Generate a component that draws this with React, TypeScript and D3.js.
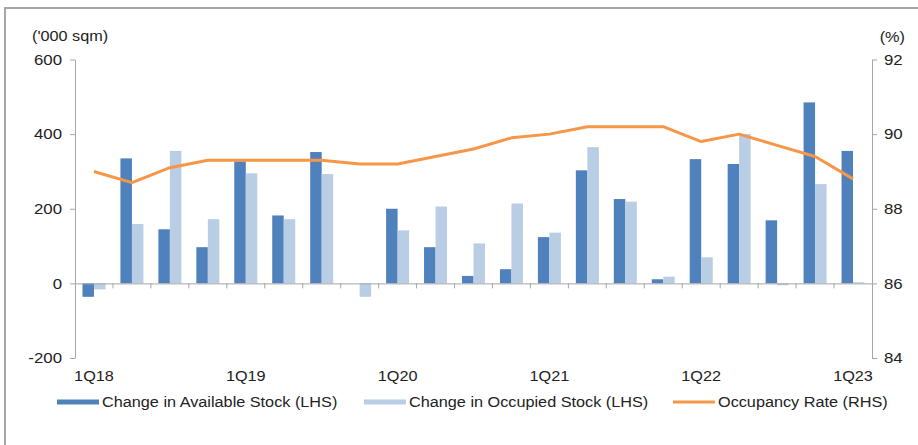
import { useEffect, useRef } from "react";
import * as d3 from "d3";

const quarters = [
  "1Q18", "2Q18", "3Q18", "4Q18",
  "1Q19", "2Q19", "3Q19", "4Q19",
  "1Q20", "2Q20", "3Q20", "4Q20",
  "1Q21", "2Q21", "3Q21", "4Q21",
  "1Q22", "2Q22", "3Q22", "4Q22",
  "1Q23",
];
// '000 sqm
const availableStock = [-36, 335, 145, 97, 327, 182, 352, 0, 200, 97, 20, 38, 124, 303, 226, 11, 333, 320, 169, 485, 355];
const occupiedStock = [-16, 159, 355, 172, 295, 172, 293, -36, 142, 206, 107, 214, 136, 365, 219, 18, 70, 400, -5, 266, 3];
// %
const occupancyRate = [89.0, 88.7, 89.1, 89.3, 89.3, 89.3, 89.3, 89.2, 89.2, 89.4, 89.6, 89.9, 90.0, 90.2, 90.2, 90.2, 89.8, 90.0, 89.7, 89.4, 88.8];

const leftTicks = [-200, 0, 200, 400, 600];
const rightTicks = [84, 86, 88, 90, 92];

const seriesNames = ["Change in Available Stock (LHS)", "Change in Occupied Stock (LHS)", "Occupancy Rate (RHS)"];

const DARK = "#4f81bd";
const LIGHT = "#b9cde5";
const ORANGE = "#f79646";
const AXIS = "#a6a6a6";
const FONT = "'Liberation Sans', Arial, sans-serif";
const STRETCH = 1.16; // the source text is a little wide for its height

// widen every text horizontally by a fixed factor
function stretch(sel: d3.Selection<any, any, any, any>) {
  sel.each(function () {
    const t = this as SVGTextElement;
    const len = t.getComputedTextLength();
    if (len > 0) {
      t.setAttribute("textLength", String(len * STRETCH));
      t.setAttribute("lengthAdjust", "spacingAndGlyphs");
    }
  });
}

export default function App() {
  const ref = useRef<SVGSVGElement>(null);

  useEffect(() => {
    document.body.style.margin = "0";
    const el = ref.current;
    if (!el) return;
    const W = 918, H = 445;
    const M = { top: 59.5, right: 46, bottom: 87, left: 75 };

    const svg = d3.select(el);
    svg.selectAll("*").remove();

    // outer frame (runs off the right and bottom edge)
    svg.append("rect")
      .attr("x", 5).attr("y", 8).attr("width", W + 10).attr("height", H + 10)
      .attr("fill", "#fff").attr("stroke", AXIS).attr("stroke-width", 2);

    const x = d3.scaleBand().domain(quarters).range([M.left, W - M.right]).padding(0);
    const sub = d3.scaleBand().domain(["a", "o"]).range([0, x.bandwidth()]).paddingInner(0).paddingOuter(0.65);
    const y = d3.scaleLinear().domain([-200, 600]).range([H - M.bottom, M.top]);
    const y2 = d3.scaleLinear().domain([84, 92]).range([H - M.bottom, M.top]);

    const rows = quarters.map((q, i) => ({ q, a: availableStock[i], o: occupiedStock[i], r: occupancyRate[i] }));

    // bars
    const g = svg.append("g");
    g.selectAll(".abar").data(rows).join("rect").attr("class", "abar")
      .attr("x", (d) => x(d.q)! + sub("a")!)
      .attr("width", sub.bandwidth())
      .attr("y", (d) => y(Math.max(0, d.a)))
      .attr("height", (d) => Math.abs(y(d.a) - y(0)))
      .attr("fill", DARK);
    g.selectAll(".obar").data(rows).join("rect").attr("class", "obar")
      .attr("x", (d) => x(d.q)! + sub("o")!)
      .attr("width", sub.bandwidth())
      .attr("y", (d) => y(Math.max(0, d.o)))
      .attr("height", (d) => Math.abs(y(d.o) - y(0)))
      .attr("fill", LIGHT);

    // zero line with category ticks
    svg.append("g")
      .attr("transform", `translate(0,${y(0)})`)
      .call(d3.axisBottom(x).tickSize(0).tickFormat(() => ""))
      .call((a) => a.select(".domain").attr("stroke", AXIS))
      .call((a) => a.selectAll(".tick").remove());
    svg.append("g").selectAll("line")
      .data(quarters.slice(1))
      .join("line")
      .attr("x1", (d) => x(d)!).attr("x2", (d) => x(d)!)
      .attr("y1", y(0)).attr("y2", y(0) + 5)
      .attr("stroke", AXIS);

    // category labels
    svg.append("g").selectAll("text")
      .data(quarters.filter((q) => q.startsWith("1Q")))
      .join("text")
      .attr("x", (d) => x(d)! + x.bandwidth() / 2)
      .attr("y", 381)
      .attr("text-anchor", "middle")
      .attr("fill", "#222")
      .style("font", `14px ${FONT}`)
      .text((d) => d)
      .call(stretch);

    // left axis
    svg.append("g")
      .attr("transform", `translate(${M.left},0)`)
      .call(d3.axisLeft(y).tickValues(leftTicks).tickFormat((d) => String(d)).tickSize(5).tickPadding(8).tickSizeOuter(0))
      .call((a) => a.select(".domain").attr("stroke", AXIS))
      .call((a) => a.selectAll(".tick line").attr("stroke", AXIS))
      .call((a) => a.selectAll(".tick text").attr("fill", "#222").style("font", `14.5px ${FONT}`).call(stretch));

    // right axis
    svg.append("g")
      .attr("transform", `translate(${W - M.right},0)`)
      .call(d3.axisRight(y2).tickValues(rightTicks).tickFormat((d) => String(d)).tickSize(5).tickPadding(7).tickSizeOuter(0))
      .call((a) => a.select(".domain").attr("stroke", AXIS))
      .call((a) => a.selectAll(".tick line").attr("stroke", AXIS))
      .call((a) => a.selectAll(".tick text").attr("fill", "#222").style("font", `14.5px ${FONT}`).call(stretch));

    // unit labels
    svg.append("text").attr("x", 32).attr("y", 41).attr("fill", "#222")
      .style("font", `14px ${FONT}`).text("('000 sqm)").call(stretch);
    svg.append("text").attr("x", 905).attr("y", 42).attr("text-anchor", "end").attr("fill", "#222")
      .style("font", `14px ${FONT}`).text("(%)").call(stretch);

    // occupancy line
    svg.append("path")
      .datum(rows)
      .attr("fill", "none")
      .attr("stroke", ORANGE)
      .attr("stroke-width", 3)
      .attr("stroke-linejoin", "round")
      .attr("d", d3.line<typeof rows[number]>()
        .x((d) => x(d.q)! + x.bandwidth() / 2)
        .y((d) => y2(d.r)));

    // legend
    const leg = svg.append("g");
    const items: [string, string, number, number][] = [
      [seriesNames[0], DARK, 57, 5],
      [seriesNames[1], LIGHT, 364, 5],
      [seriesNames[2], ORANGE, 673, 3],
    ];
    items.forEach(([label, color, lx, h]) => {
      leg.append("rect").attr("x", lx).attr("y", 402 - h / 2).attr("width", 42).attr("height", h).attr("fill", color);
      leg.append("text").attr("x", lx + 45).attr("y", 407).attr("fill", "#222")
        .style("font", `14px ${FONT}`).text(label).call(stretch);
    });
  }, []);

  return <svg ref={ref} width={918} height={445} style={{ display: "block", background: "#fff" }} />;
}
